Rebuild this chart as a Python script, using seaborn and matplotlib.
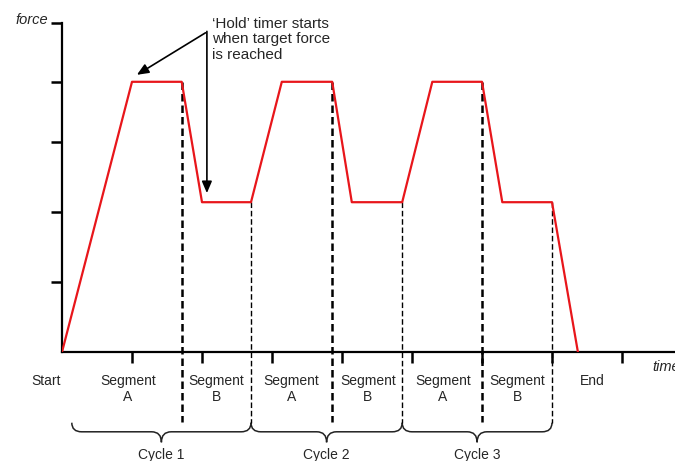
import matplotlib
matplotlib.use("Agg")
import matplotlib.pyplot as plt
import seaborn as sns
import pandas as pd
from matplotlib.path import Path
from matplotlib.patches import PathPatch

# ---- data (x in tick units, y in force units) ----
time = [0.0, 1.0, 1.71, 2.0, 2.70, 3.14, 3.86, 4.14, 4.86, 5.29, 6.0, 6.29, 7.0, 7.37]
force = [0.0, 3.86, 3.86, 2.14, 2.14, 3.86, 3.86, 2.14, 2.14, 3.86, 3.86, 2.14, 2.14, 0.0]
hold_end_peak = [1.71, 3.86, 6.0]      # thick dashed lines (end of segment A)
hold_end_low = [2.70, 4.86, 7.0]       # thin dashed lines (end of segment B)
x_ticks = [1, 2, 3, 4, 5, 6, 7, 8]
y_ticks = [1, 2, 3, 3.86, 4.7]
seg_labels = ["Segment\nA", "Segment\nB", "Segment\nA", "Segment\nB", "Segment\nA", "Segment\nB"]
seg_label_x = [0.94, 2.21, 3.28, 4.37, 5.44, 6.51]
cycle_labels = ["Cycle 1", "Cycle 2", "Cycle 3"]
cycle_bounds = [(0.14, 2.70), (2.70, 4.86), (4.86, 7.0)]

df = pd.DataFrame({"time": time, "force": force})

sns.set_style("ticks")
plt.rcParams["font.family"] = ["Liberation Sans", "DejaVu Sans"]

fig = plt.figure(figsize=(6.75, 4.61), dpi=100)
ax = fig.add_axes([62 / 675, 109 / 461, 613 / 675, 329 / 461])

sns.lineplot(data=df, x="time", y="force", sort=False, estimator=None,
             color="#e8161b", linewidth=1.6, ax=ax, zorder=5)

ax.set_xlim(0, 613 / 70)
ax.set_ylim(0, 4.7)
ax.set_xticks(x_ticks)
ax.set_yticks(y_ticks)
ax.set_xticklabels([])
ax.set_yticklabels([])
ax.tick_params(axis="both", direction="out", length=8, width=1.8, color="black")
ax.set_xlabel("")
ax.set_ylabel("")
for side in ["top", "right"]:
    ax.spines[side].set_visible(False)
for side in ["left", "bottom"]:
    ax.spines[side].set_linewidth(1.6)
    ax.spines[side].set_color("black")

peak = max(force)
low = 2.14
for x in hold_end_peak:
    ax.plot([x, x], [peak, -1.0], color="black", lw=1.8, ls=(0, (3, 1.6)),
            clip_on=False, zorder=4)
for x in hold_end_low:
    ax.plot([x, x], [low, -1.01], color="black", lw=1.0, ls=(0, (4, 2)),
            clip_on=False, zorder=4)

# braces
def brace(x0, x1, y_top=-1.01, y_mid=-1.14, y_tip=-1.29, r=0.14):
    xm = (x0 + x1) / 2
    verts = [(x0, y_top), (x0, y_mid), (x0 + r, y_mid),
             (xm - r, y_mid), (xm, y_mid), (xm, y_tip),
             (xm, y_mid), (xm + r, y_mid),
             (x1 - r, y_mid), (x1, y_mid), (x1, y_top)]
    codes = [Path.MOVETO, Path.CURVE3, Path.CURVE3,
             Path.LINETO, Path.CURVE3, Path.CURVE3,
             Path.CURVE3, Path.CURVE3,
             Path.LINETO, Path.CURVE3, Path.CURVE3]
    p = PathPatch(Path(verts, codes), fill=False, lw=1.1, color="#222222",
                  clip_on=False)
    ax.add_patch(p)
    return xm

fs = 10
tc = "#262626"
for (x0, x1), lab in zip(cycle_bounds, cycle_labels):
    xm = brace(x0, x1)
    ax.text(xm, -1.47, lab, ha="center", va="center", fontsize=fs, color=tc,
            clip_on=False)

for x, lab in zip(seg_label_x, seg_labels):
    ax.text(x, -0.53, lab, ha="center", va="center", fontsize=fs, color=tc,
            linespacing=1.25)

ax.text(-0.23, -0.41, "Start", ha="center", va="center", fontsize=fs, color=tc)
ax.text(7.57, -0.41, "End", ha="center", va="center", fontsize=fs, color=tc)
ax.text(8.44, -0.22, "time", ha="left", va="center", fontsize=fs + 0.5,
        style="italic", color=tc, clip_on=False)
ax.text(-0.2, 4.75, "force", ha="right", va="center", fontsize=fs + 0.5,
        style="italic", color=tc)

# annotation with two arrows
ax.text(2.14, 4.47, "\u2018Hold\u2019 timer starts\nwhen target force\nis reached",
        ha="left", va="center", fontsize=11, linespacing=1.13, color=tc)
ax.annotate("", xy=(1.07, 3.96), xytext=(2.05, 4.56),
            arrowprops=dict(arrowstyle="-|>,head_length=0.7,head_width=0.3",
                            color="black", lw=1.2, shrinkA=0, shrinkB=0))
ax.annotate("", xy=(2.07, 2.27), xytext=(2.07, 4.58),
            arrowprops=dict(arrowstyle="-|>,head_length=0.7,head_width=0.3",
                            color="black", lw=1.2, shrinkA=0, shrinkB=0))

fig.savefig("out.png", dpi=100)
